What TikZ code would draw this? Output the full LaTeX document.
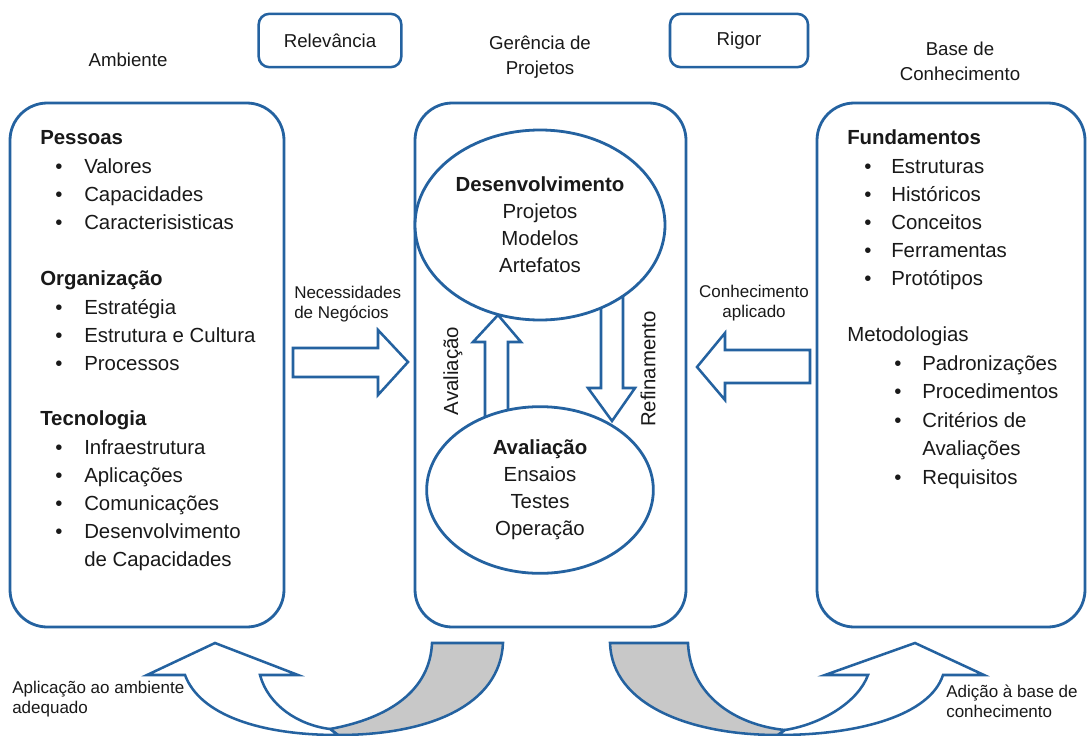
\documentclass[tikz,border=0pt]{standalone}
\usepackage{fontspec}
\setmainfont{Liberation Sans}
\usetikzlibrary{shapes.geometric}
\definecolor{frameblue}{RGB}{36,98,160}
\definecolor{backgray}{RGB}{200,200,200}
\definecolor{ink}{RGB}{25,25,25}

\begin{document}
\begin{tikzpicture}[x=0.75pt,y=-0.75pt,
  frame/.style={draw=frameblue, line width=2.1pt, fill=white, rounded corners=28pt, inner sep=0pt},
  tag/.style={draw=frameblue, line width=1.9pt, fill=white, rounded corners=8pt, inner sep=0pt,
              minimum height=40pt, text=ink, font=\fontsize{14}{18}\selectfont},
  blob/.style={ellipse, draw=frameblue, line width=2.1pt, fill=white, inner sep=0pt, align=center,
               text=ink, font=\fontsize{15.3}{20.25}\selectfont},
  hollow/.style={draw=frameblue, line width=1.9pt, fill=white, line join=miter},
  back/.style={draw=frameblue, line width=1.9pt, fill=backgray, line join=miter},
  head/.style={text=ink, font=\fontsize{14}{18.5}\selectfont, align=center, inner sep=0pt},
  note/.style={text=ink, font=\fontsize{12.75}{15}\selectfont, inner sep=0pt},
  row/.style={text=ink, font=\fontsize{15.3}{21}\selectfont, inner sep=0pt, anchor=base west, yshift=-5.3pt},
  title/.style={row, font=\fontsize{15.3}{21}\selectfont\bfseries},
  dot/.style={row, anchor=base},
]
% page frame
\fill[white] (0,0) rectangle (1091,735);
\useasboundingbox (0,0) rectangle (1091,735);

% ---------- header ----------
\node[head] (amb) at (128,60) {Ambiente};
\node[tag, minimum width=107pt] (relev) at (330,40.5) {Relevância};
\node[head] (ger) at (540,57) {Gerência de\\Projetos};
\node[tag, minimum width=103.5pt] (rigor) at (739,40.5) {Rigor};
\node[head] (base) at (960,61) {Base de\\Conhecimento};

% ---------- three columns ----------
\node[frame, minimum width=205.5pt, minimum height=393pt] (env) at (147,365) {};
\node[frame, minimum width=203.25pt, minimum height=393pt] (proj) at (550.5,365) {};
\node[frame, minimum width=201pt, minimum height=393pt] (kb) at (951,365) {};

% ---------- environment list ----------
\node[title] (pessoas) at (40,137) {Pessoas};
\foreach \w/\y [count=\i] in {Valores/166,Capacidades/194,Caracterisisticas/222}{
  \node[dot] (pd\i) at (59,\y) {\textbullet};
  \node[row] (pi\i) at (84,\y) {\w};
}
\node[title] (org) at (40,278) {Organização};
\foreach \w/\y [count=\i] in {Estratégia/307,Estrutura e Cultura/335,Processos/363}{
  \node[dot] (od\i) at (59,\y) {\textbullet};
  \node[row] (oi\i) at (84,\y) {\w};
}
\node[title] (tec) at (40,418) {Tecnologia};
\foreach \w/\y [count=\i] in {Infraestrutura/447,Aplicações/475,Comunicações/503,Desenvolvimento/531}{
  \node[dot] (td\i) at (59,\y) {\textbullet};
  \node[row] (ti\i) at (84,\y) {\w};
}
\node[row] (ti5) at (84,559) {de Capacidades};

% ---------- knowledge base list ----------
\node[title] (fund) at (847,137) {Fundamentos};
\foreach \w/\y [count=\i] in {Estruturas/166,Históricos/194,Conceitos/222,Ferramentas/250,Protótipos/278}{
  \node[dot] (fd\i) at (868,\y) {\textbullet};
  \node[row] (fi\i) at (891,\y) {\w};
}
\node[row] (met) at (847,334) {Metodologias};
\foreach \w/\y [count=\i] in {Padronizações/363,Procedimentos/391,Critérios de/420,Requisitos/477}{
  \node[dot] (md\i) at (898,\y) {\textbullet};
  \node[row] (mi\i) at (922,\y) {\w};
}
\node[row] (mi5) at (922,448) {Avaliações};

% ---------- cycle inside the project column ----------
% upward block arrow (evaluation feeds development)
\draw[hollow] (485,432) -- (485,342) -- (473,342) -- (498,315) -- (521,342)
              -- (508,342) -- (508,432) -- cycle;
% downward block arrow (refinement)
\draw[hollow] (601,280) -- (601,388) -- (588,388) -- (612,421) -- (635,388)
              -- (623,388) -- (623,280) -- cycle;
\node[blob, minimum width=187.5pt, minimum height=142.5pt] (dev) at (540,225)
  {\textbf{Desenvolvimento}\\Projetos\\Modelos\\Artefatos};
\node[blob, minimum width=170pt, minimum height=125pt] (eval) at (540,490)
  {\textbf{Avaliação}\\Ensaios\\Testes\\Operação};
\node[row, anchor=center, yshift=0pt, rotate=90] (lbup) at (453,364) {Avaliação};
\node[row, anchor=center, yshift=0pt, rotate=90] (lbdown) at (648,362) {Refinamento};

% ---------- side block arrows ----------
\draw[hollow] (293,348) -- (378,348) -- (378,330) -- (408,362) -- (378,395)
              -- (378,377) -- (293,377) -- cycle;
\node[note, align=left, anchor=west] (need) at (294,304) {Necessidades\\de Negócios};
\draw[hollow] (810,350) -- (725,350) -- (725,333) -- (697,367) -- (725,400)
              -- (725,383) -- (810,383) -- cycle;
\node[note, align=center] (appl) at (754,303) {Conhecimento\\aplicado};

% ---------- curved return arrows ----------
% back face, left
\draw[back] (432,643) -- (503,643) .. controls (500,705) and (430,735) .. (338,735)
            -- (330,729) .. controls (390,718) and (430,690) .. (432,643) -- cycle;
% front face with head, left
\draw[hollow] (185,675) -- (147,675) -- (215,643) -- (298,675) -- (260,675)
              .. controls (268,705) and (298,725) .. (330,729) -- (338,735)
              .. controls (260,735) and (200,715) .. (185,675) -- cycle;
\node[note, align=left, anchor=west] (toenv) at (12,699) {Aplicação ao ambiente\\adequado};

% back face, right
\draw[back] (610,643) -- (688,643) .. controls (690,695) and (735,725) .. (785,730)
            -- (778,735) .. controls (690,735) and (612,705) .. (610,643) -- cycle;
% front face with head, right
\draw[hollow] (943,675) -- (984,675) -- (915,643) -- (825,675) -- (868,675)
              .. controls (858,702) and (822,724) .. (785,730) -- (778,735)
              .. controls (860,735) and (930,715) .. (943,675) -- cycle;
\node[note, align=left, anchor=west] (tokb) at (946,701) {Adição à base de\\conhecimento};

\end{tikzpicture}
\end{document}
